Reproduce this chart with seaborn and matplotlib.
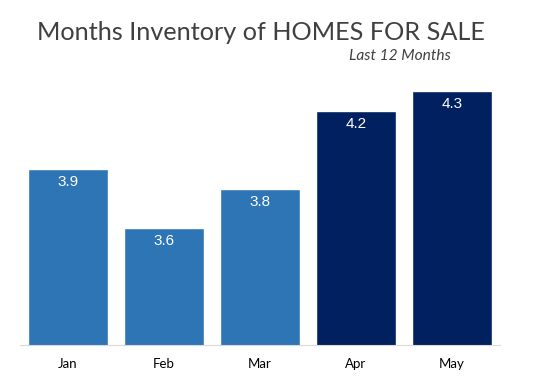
import matplotlib
matplotlib.use("Agg")
import matplotlib.pyplot as plt
import seaborn as sns
import pandas as pd

months = ["Jan", "Feb", "Mar", "Apr", "May"]
values = [3.9, 3.6, 3.8, 4.2, 4.3]
groups = ["early", "early", "early", "late", "late"]
labels = ["3.9", "3.6", "3.8", "4.2", "4.3"]

palette = {"early": "#2E75B6", "late": "#002060"}

sns.set_theme(style="white")
plt.rcParams['font.family'] = ['Lato', 'DejaVu Sans']

df = pd.DataFrame({"month": months, "value": values, "group": groups})

fig = plt.figure(figsize=(5.36, 3.85), dpi=100)
ax = fig.add_axes([20/536, 40/385, 480/536, 293/385])
sns.barplot(data=df, x="month", y="value", hue="group", palette=palette,
            dodge=False, width=0.833, legend=False, ax=ax, saturation=1)
ax.set_ylim(3.0, 4.5)
ax.set_xlim(-0.5, 4.5)
for s in ["top", "right", "left"]:
    ax.spines[s].set_visible(False)
ax.spines["bottom"].set_color("#D9D9D9")
ax.spines["bottom"].set_linewidth(0.8)
ax.set_yticks([])
ax.set_xlabel("")
ax.set_ylabel("")
ax.tick_params(axis="x", length=0, pad=9, labelsize=9.5, labelcolor="black")

for i, (v, t) in enumerate(zip(values, labels)):
    ax.annotate(t, (i, v), xytext=(0, -9.5), textcoords="offset points",
                ha="center", va="center", color="white", fontsize=11,
                family="Liberation Sans")

fig.text(261/536, 352/385, "Months Inventory of HOMES FOR SALE", ha="center", va="center",
         fontsize=18.2, color="#404040")
fig.text(400/536, 329/385, "Last 12 Months", ha="center", va="center",
         fontsize=11.2, color="#404040", style="italic")

fig.savefig("out.png", dpi=100)
